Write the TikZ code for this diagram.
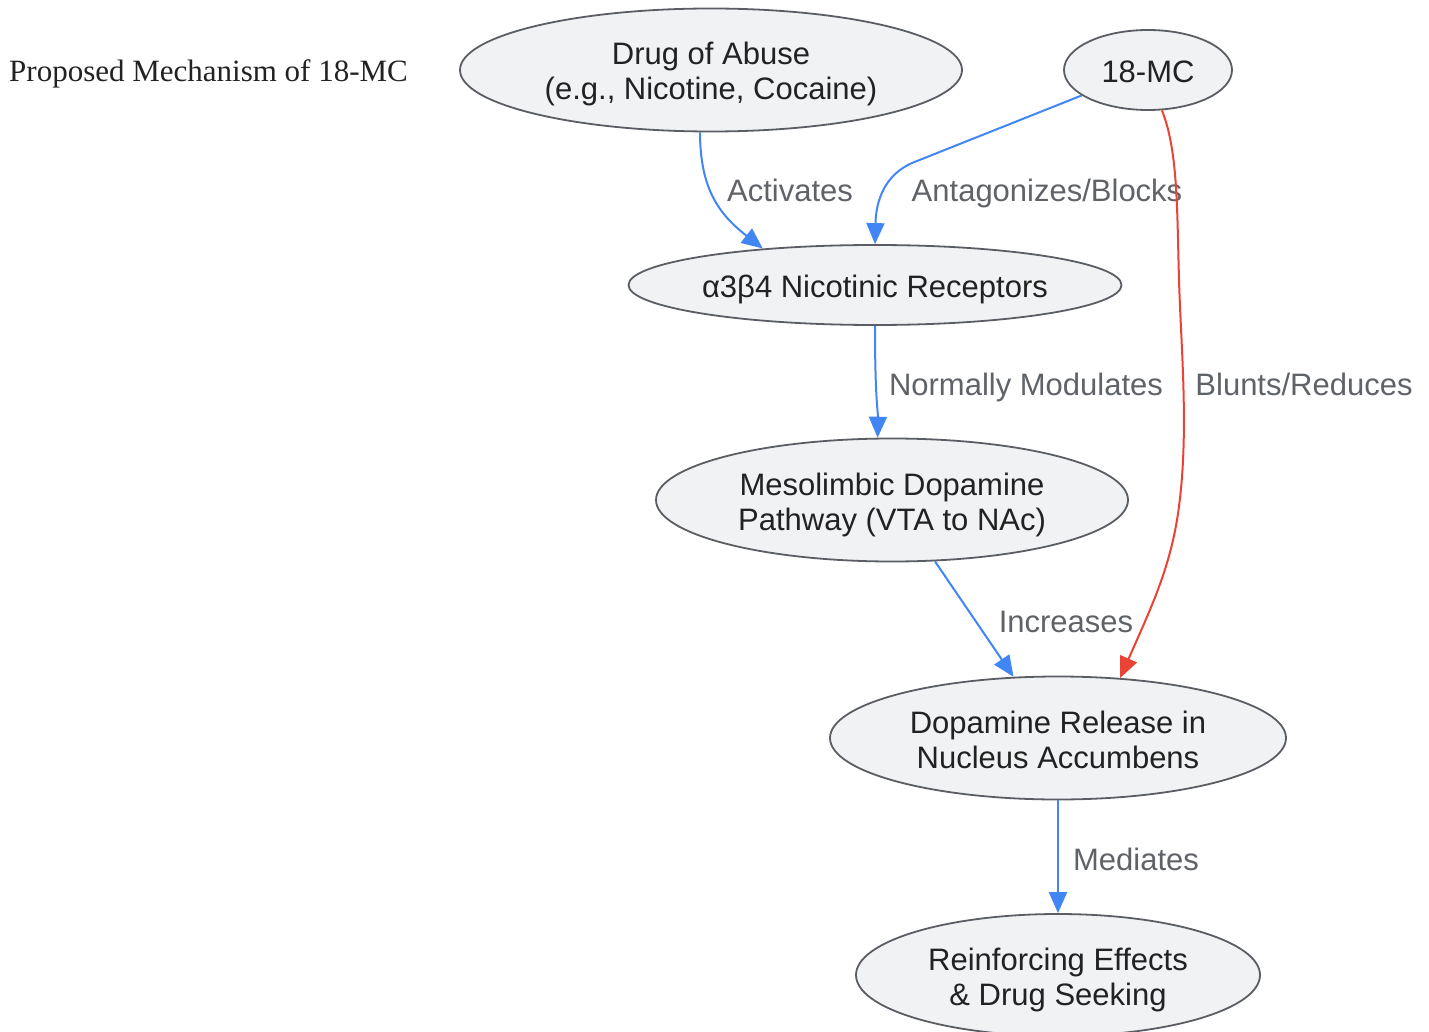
\documentclass[tikz,border=0pt]{standalone}
\usepackage{fontspec}
\setmainfont{Liberation Sans}
\newfontfamily\titlefont{Liberation Serif}
\usetikzlibrary{shapes.geometric,arrows.meta}
\definecolor{edgeblue}{HTML}{4285F4}
\definecolor{edgered}{HTML}{EA4335}
\definecolor{lblgray}{HTML}{5F6368}
\definecolor{nodefill}{HTML}{F1F2F4}
\definecolor{nodeline}{HTML}{5A5D63}
\definecolor{nodetext}{HTML}{222222}
\tikzset{
  ell/.style={ellipse, draw=nodeline, line width=1.8pt, fill=nodefill, inner sep=0pt,
    text=nodetext, align=center, font=\fontsize{31}{35}\selectfont},
  oneline/.style={text height=25pt, text depth=0pt},
  twoline/.style={text height=60pt, text depth=0pt},
  lbl/.style={text=lblgray, font=\fontsize{31}{35}\selectfont, inner sep=0pt,
    text height=23pt, text depth=0pt},
  conn/.style={draw=edgeblue, line width=2pt, -{Triangle[length=21pt,width=18pt]}},
  redconn/.style={draw=edgered, line width=2pt, -{Triangle[length=21pt,width=18pt]}}
}
\begin{document}
\begin{tikzpicture}[x=1pt,y=-1pt]
\useasboundingbox (0,0) rectangle (1429,1032);
% title
\node[anchor=west, inner sep=0pt, text=nodetext, text height=22pt, text depth=0pt,
  font=\titlefont\fontsize{31}{36}\selectfont] (title) at (9,71) {Proposed Mechanism of 18-MC};
% nodes
\node[ell, twoline, minimum width=502pt, minimum height=123pt] (drug) at (711,70) {Drug of Abuse\\(e.g., Nicotine, Cocaine)};
\node[ell, oneline, minimum width=168pt, minimum height=80pt] (mc) at (1148,70) {18-MC};
\node[ell, oneline, minimum width=493pt, minimum height=80pt] (nic) at (875,285) {α3β4 Nicotinic Receptors};
\node[ell, twoline, minimum width=472pt, minimum height=123pt] (meso) at (892,500) {Mesolimbic Dopamine\\Pathway (VTA to NAc)};
\node[ell, twoline, minimum width=456pt, minimum height=123pt] (dopa) at (1058,738) {Dopamine Release in\\Nucleus Accumbens};
\node[ell, twoline, minimum width=404pt, minimum height=122pt] (reinf) at (1058,975) {Reinforcing Effects\\\& Drug Seeking};
% labels
\node[lbl] (l1) at (790,190) {Activates};
\node[lbl] (l2) at (1047,190) {Antagonizes/Blocks};
\node[lbl] (l3) at (1026,384) {Normally Modulates};
\node[lbl] (l4) at (1304,384) {Blunts/Reduces};
\node[lbl] (l5) at (1066,621) {Increases};
\node[lbl] (l6) at (1136,859) {Mediates};
% connectors
\draw[conn] (drug.-100) .. controls (700,190) and (720,215) .. (nic.162.5);
\draw[conn] (mc.201) -- (912,163) .. controls (885,175) and (876,200) .. (nic.north);
\draw[redconn] (mc.-71.6) .. controls (1178,150) and (1177,210) .. (1179,280)
   .. controls (1181,350) and (1190,440) .. (1177,520)
   .. controls (1168,573) and (1150,610) .. (dopa.44.7);
\draw[conn] (nic.south) .. controls (875,400) and (878,410) .. (meso.103);
\draw[conn] (meso.-55.2) -- (dopa.126.1);
\draw[conn] (dopa.south) -- (reinf.north);
\end{tikzpicture}
\end{document}
